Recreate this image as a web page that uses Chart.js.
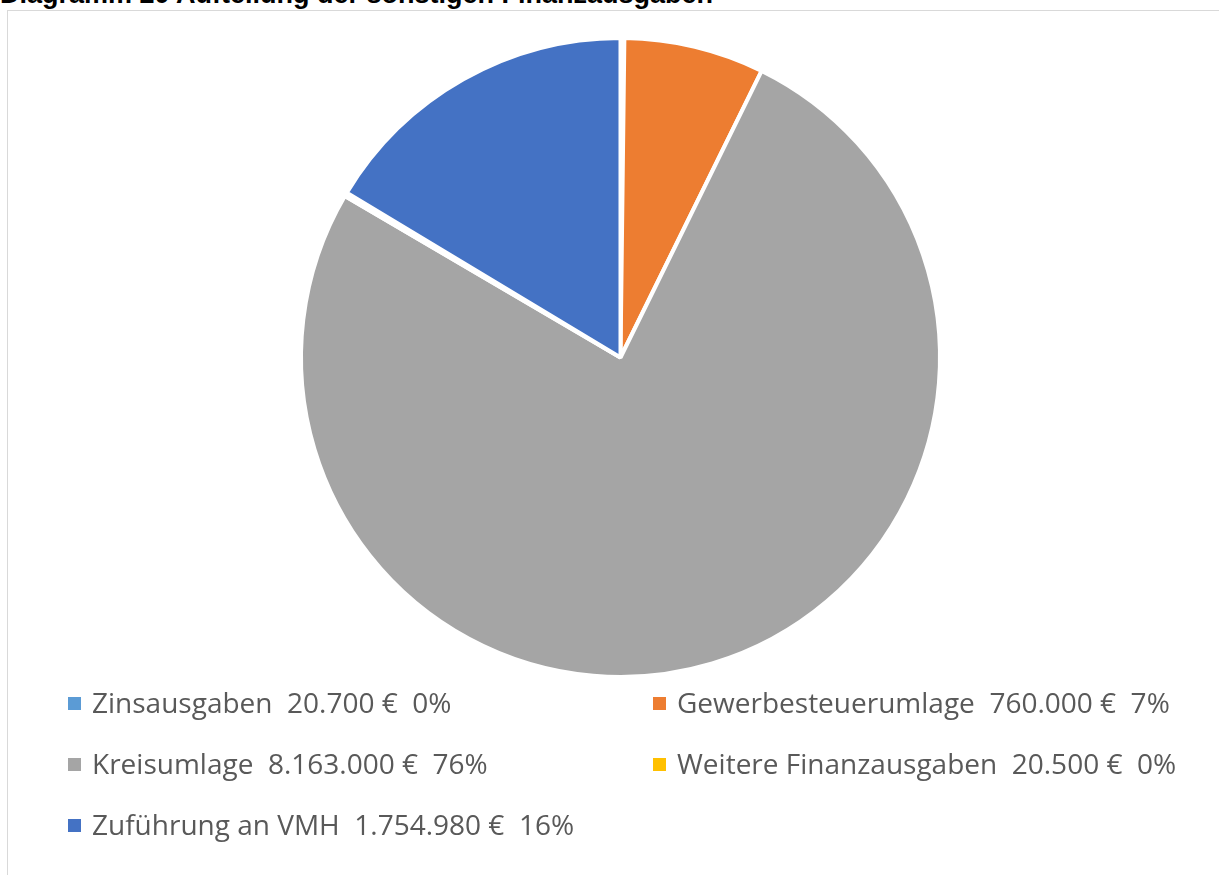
<!DOCTYPE html>
<html>
<head>
<meta charset="utf-8">
<script src="https://cdn.jsdelivr.net/npm/chart.js@4.4.1/dist/chart.umd.min.js"></script>
<style>
  html, body { margin: 0; padding: 0; background: #fff; overflow: hidden; }
  #wrap { position: relative; width: 1219px; height: 875px; }
  #title { position: absolute; left: 0; top: -21px; font: bold 27px "Liberation Sans", Arial, sans-serif; color: #000; white-space: nowrap; }
  #frame { position: absolute; left: 7px; top: 10px; width: 1230px; height: 900px; border: 1px solid #d9d9d9; box-sizing: border-box; }
  #pie { position: absolute; left: 0; top: 0; }
</style>
</head>
<body>
<div id="wrap">
  <div id="title">Diagramm 20 Aufteilung der sonstigen Finanzausgaben</div>
  <div id="frame"></div>
  <canvas id="pie" width="1219" height="875"></canvas>
</div>
<script>
var labels = ['Zinsausgaben', 'Gewerbesteuerumlage', 'Kreisumlage', 'Weitere Finanzausgaben', 'Zuführung an VMH'];
var amounts = [20700, 760000, 8163000, 20500, 1754980];
var amountText = ['20.700 €', '760.000 €', '8.163.000 €', '20.500 €', '1.754.980 €'];
var percentText = ['0%', '7%', '76%', '0%', '16%'];
var colors = ['#5B9BD5', '#ED7D31', '#A5A5A5', '#FFC000', '#4472C4'];

// legend in two columns, like the office chart
var twoColLegend = {
  id: 'twoColLegend',
  afterDraw: function(chart) {
    var c = chart.ctx;
    c.save();
    c.font = '28px "Open Sans", "Noto Sans", sans-serif';
    c.textBaseline = 'middle';
    for (var i = 0; i < labels.length; i++) {
      var col = i % 2, row = Math.floor(i / 2);
      var x = col === 0 ? 68 : 653;
      var y = 704 + row * 61;
      c.fillStyle = colors[i];
      c.fillRect(x, y - 7, 13, 13);
      c.fillStyle = '#595959';
      c.fillText(labels[i] + '  ' + amountText[i] + '  ' + percentText[i], x + 24, y + 1);
    }
    c.restore();
  }
};

new Chart(document.getElementById('pie').getContext('2d'), {
  type: 'pie',
  data: {
    labels: labels,
    datasets: [{
      data: amounts,
      backgroundColor: colors,
      borderColor: '#ffffff',
      borderWidth: 4,
      hoverOffset: 0
    }]
  },
  options: {
    responsive: false,
    animation: false,
    layout: { padding: { left: 299, right: 277, top: 36, bottom: 196 } },
    plugins: {
      legend: { display: false },
      tooltip: { enabled: false }
    }
  },
  plugins: [twoColLegend]
});
</script>
</body>
</html>
